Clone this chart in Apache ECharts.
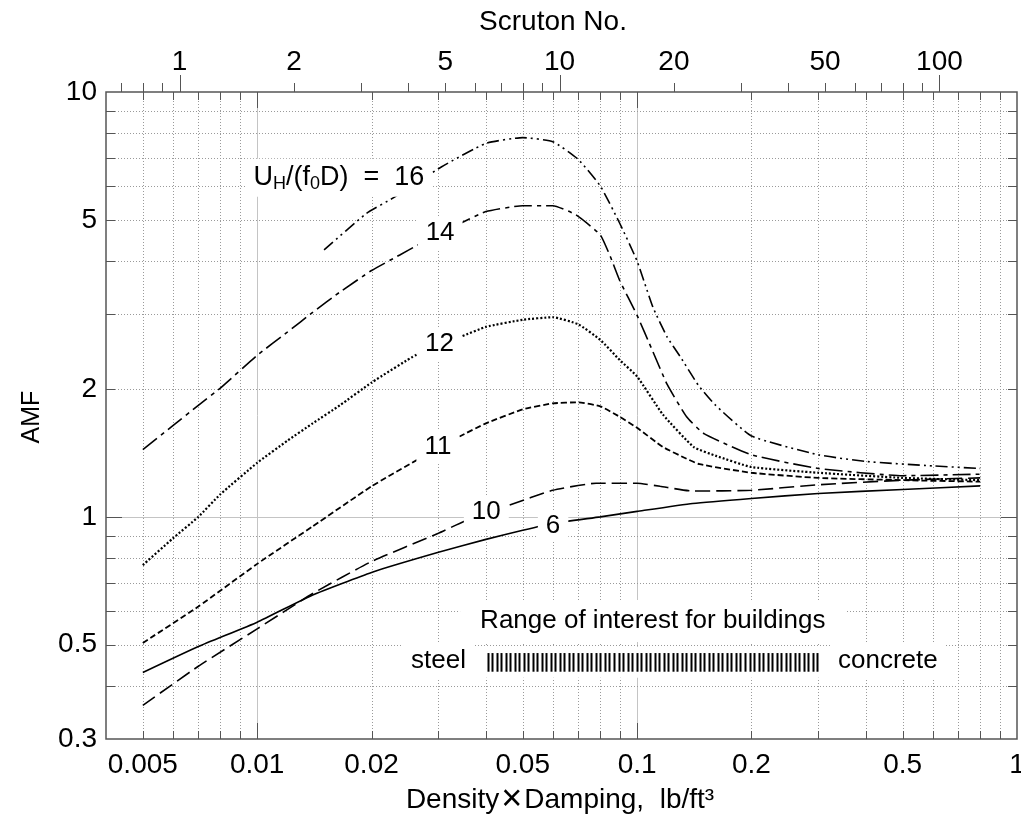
<!DOCTYPE html>
<html>
<head>
<meta charset="utf-8">
<script src="https://cdn.jsdelivr.net/npm/echarts@6/dist/echarts.min.js"></script>
<style>
  html, body { margin: 0; padding: 0; background: #fff; }
  #main { width: 1021px; height: 823px; }
</style>
</head>
<body>
<div id="main"></div>
<script>
// density x damping (lb/ft^3) vs amplitude magnification factor, one list per U_H/(f0 D)
const amf6 = [[0.005, 0.43], [0.007, 0.495], [0.01, 0.565], [0.014, 0.655], [0.02, 0.74], [0.03, 0.825], [0.04, 0.885], [0.05, 0.93], [0.06, 0.965], [0.08, 1.0], [0.1, 1.03], [0.14, 1.075], [0.2, 1.105], [0.3, 1.135], [0.5, 1.16], [0.8, 1.183]]
const amf10 = [[0.005, 0.36], [0.007, 0.445], [0.01, 0.545], [0.014, 0.66], [0.02, 0.785], [0.03, 0.915], [0.035, 0.975], [0.046, 1.065], [0.06, 1.155], [0.078, 1.2], [0.1, 1.2], [0.115, 1.18], [0.14, 1.15], [0.2, 1.155], [0.3, 1.19], [0.5, 1.22], [0.8, 1.235]]
const amf11 = [[0.005, 0.505], [0.007, 0.615], [0.01, 0.775], [0.014, 0.95], [0.02, 1.18], [0.0263, 1.36], [0.0343, 1.55], [0.04, 1.66], [0.05, 1.79], [0.06, 1.85], [0.07, 1.86], [0.08, 1.82], [0.09, 1.72], [0.1, 1.62], [0.117, 1.46], [0.135, 1.37], [0.146, 1.33], [0.2, 1.27], [0.3, 1.235], [0.5, 1.22], [0.8, 1.21]]
const amf12 = [[0.005, 0.77], [0.006, 0.89], [0.007, 1.0], [0.008, 1.13], [0.01, 1.34], [0.012, 1.51], [0.014, 1.66], [0.0165, 1.83], [0.02, 2.07], [0.0263, 2.41], [0.0346, 2.66], [0.04, 2.8], [0.05, 2.91], [0.06, 2.95], [0.07, 2.84], [0.08, 2.61], [0.09, 2.34], [0.1, 2.14], [0.117, 1.74], [0.141, 1.46], [0.162, 1.39], [0.2, 1.31], [0.3, 1.27], [0.5, 1.235], [0.8, 1.22]]
const amf14 = [[0.005, 1.44], [0.006, 1.64], [0.007, 1.83], [0.008, 2.01], [0.01, 2.4], [0.012, 2.72], [0.014, 3.03], [0.0165, 3.38], [0.02, 3.8], [0.0238, 4.14], [0.0263, 4.35], [0.0343, 4.91], [0.04, 5.23], [0.05, 5.4], [0.06, 5.4], [0.069, 5.14], [0.08, 4.61], [0.085, 4.1], [0.09, 3.6], [0.1, 2.98], [0.11, 2.45], [0.12, 2.05], [0.135, 1.72], [0.15, 1.57], [0.2, 1.4], [0.3, 1.3], [0.5, 1.25], [0.8, 1.26]]
const amf16 = [[0.015, 4.25], [0.0194, 5.18], [0.0231, 5.67], [0.0306, 6.67], [0.04, 7.57], [0.05, 7.81], [0.06, 7.64], [0.07, 6.94], [0.08, 6.01], [0.09, 4.91], [0.1, 4.0], [0.11, 3.12], [0.12, 2.65], [0.13, 2.38], [0.145, 2.04], [0.16, 1.84], [0.2, 1.55], [0.3, 1.4], [0.4, 1.35], [0.6, 1.318], [0.8, 1.3]]

// axes
const xRange = [0.004, 1]
const yRange = [0.3, 10]
const scrutonRange = [0.64, 160]
const xGrid = [0.005, 0.006, 0.007, 0.008, 0.009, 0.01, 0.02, 0.03, 0.04, 0.05, 0.06, 0.07, 0.08, 0.09, 0.1, 0.2, 0.3, 0.4, 0.5, 0.6, 0.7, 0.8, 0.9]
const yGrid = [0.4, 0.5, 0.6, 0.7, 0.8, 0.9, 1, 2, 3, 4, 5, 6, 7, 8, 9]
const xTickLabels = [0.005, 0.01, 0.02, 0.05, 0.1, 0.2, 0.5, 1]
const yTickLabels = [0.3, 0.5, 1, 2, 5, 10]
const scrutonTicks = [0.7, 0.8, 0.9, 1, 2, 3, 4, 5, 6, 7, 8, 9, 10, 20, 30, 40, 50, 60, 70, 80, 90, 100]
const scrutonLabels = [1, 2, 5, 10, 20, 50, 100]

// curve labels: text and anchor in data space
const curveLabels = [
  { text: '14', at: [0.0303, 4.66] },
  { text: '12', at: [0.0302, 2.55] },
  { text: '11', at: [0.0299, 1.46] },
  { text: '10', at: [0.0401, 1.027] },
  { text: '6', at: [0.0601, 0.952] }
]
const titleLabelAt = [0.0289, 6.28]
const rangeTextAt = [0.11, 0.569]
const steelAt = [0.0372, 0.458]
const concreteAt = [0.322, 0.458]
const hatchFrom = [0.0404, 0.478]
const hatchTo = [0.298, 0.432]
const hatchCount = 74

const FONT = '"Liberation Sans", Arial, Helvetica, sans-serif'
const font = (size) => size + 'px ' + FONT
const isDecade = v => Math.abs(Math.log10(v) - Math.round(Math.log10(v))) < 1e-9
const crisp = v => Math.round(v) + 0.5

const line = (x1, y1, x2, y2, style) => ({ type: 'line', shape: { x1, y1, x2, y2 }, style })

const renderFrame = (params, api) => {
  const [left, bottom] = api.coord([xRange[0], yRange[0]])
  const [right, top] = api.coord([xRange[1], yRange[1]])
  const children = []
  const tick = { stroke: '#555', lineWidth: 1 }
  xGrid.forEach(v => {
    const x = crisp(api.coord([v, yRange[0]])[0])
    children.push(line(x, top, x, bottom, isDecade(v)
      ? { stroke: '#c4c4c4', lineWidth: 1 }
      : { stroke: '#9a9a9a', lineWidth: 1, lineDash: [1, 2] }))
  })
  yGrid.forEach(v => {
    const y = crisp(api.coord([xRange[0], v])[1])
    children.push(line(left, y, right, y, isDecade(v)
      ? { stroke: '#c4c4c4', lineWidth: 1 }
      : { stroke: '#9a9a9a', lineWidth: 1, lineDash: [1, 2] }))
  })
  xGrid.forEach(v => {
    const x = crisp(api.coord([v, yRange[0]])[0])
    const len = isDecade(v) ? 16 : 8
    children.push(line(x, bottom, x, bottom - len, tick))
    children.push(line(x, top, x, top + len, tick))
  })
  yGrid.forEach(v => {
    const y = crisp(api.coord([xRange[0], v])[1])
    const len = isDecade(v) ? 16 : 9
    children.push(line(left, y, left + len, y, tick))
    children.push(line(right, y, right - len, y, tick))
  })
  xTickLabels.forEach(v => {
    const x = api.coord([v, yRange[0]])[0]
    children.push({ type: 'text', x, y: bottom + 26, style: { text: String(v), font: font(28), fill: '#000', align: 'center', verticalAlign: 'middle' } })
  })
  yTickLabels.forEach(v => {
    const y = api.coord([xRange[0], v])[1]
    children.push({ type: 'text', x: left - 9, y, style: { text: String(v), font: font(28), fill: '#000', align: 'right', verticalAlign: 'middle' } })
  })
  return { type: 'group', children }
}

const renderScruton = (params, api) => {
  const top = api.coord([scrutonRange[0], yRange[1]])[1]
  const children = []
  scrutonTicks.forEach(v => {
    const x = crisp(api.coord([v, yRange[1]])[0])
    const len = isDecade(v) ? 17 : 9
    children.push(line(x, top, x, top - len, { stroke: '#555', lineWidth: 1 }))
  })
  scrutonLabels.forEach(v => {
    const x = api.coord([v, yRange[1]])[0]
    children.push({ type: 'text', x, y: top - 30, style: { text: String(v), font: font(28), fill: '#000', align: 'center', verticalAlign: 'middle' } })
  })
  return { type: 'group', children }
}

const renderNotes = (params, api) => {
  const children = []
  const txt = (p, text, align, pad) => ({
    type: 'text', x: p[0], y: p[1],
    style: { text, font: font(26), fill: '#000', align, verticalAlign: 'middle', backgroundColor: '#fff', padding: pad }
  })
  curveLabels.forEach(l => children.push(txt(api.coord(l.at), l.text, 'center', [3, 8])))
  const t = api.coord(titleLabelAt)
  children.push({
    type: 'text', x: t[0], y: t[1],
    style: {
      text: '{a|U}{s|H}{a|/(f}{s|0}{a|D)  =  16}',
      align: 'right', verticalAlign: 'middle', backgroundColor: '#fff', padding: [4, 8, 4, 8],
      rich: {
        a: { font: font(27), fill: '#000', lineHeight: 30 },
        s: { font: font(18), fill: '#000', lineHeight: 30, verticalAlign: 'bottom', padding: [12, 0, 0, 0] }
      }
    }
  })
  children.push(txt(api.coord(rangeTextAt), 'Range of interest for buildings', 'center', [8, 20]))
  const a = api.coord(hatchFrom)
  const b = api.coord(hatchTo)
  children.push({ type: 'rect', shape: { x: a[0] - 8, y: a[1] - 6, width: b[0] - a[0] + 16, height: b[1] - a[1] + 12 }, style: { fill: '#fff' } })
  const step = (b[0] - a[0]) / (hatchCount - 1)
  for (let i = 0; i < hatchCount; i++) {
    const x = crisp(a[0] + i * step)
    children.push(line(x, a[1], x, b[1], { stroke: '#000', lineWidth: 2 }))
  }
  children.push(txt(api.coord(steelAt), 'steel', 'right', [6, 8]))
  children.push(txt(api.coord(concreteAt), 'concrete', 'left', [6, 8]))
  return { type: 'group', children }
}

const curve = (name, data, dash, width) => ({
  name, type: 'line', data, xAxisIndex: 0, yAxisIndex: 0, z: 3,
  showSymbol: false, symbol: 'none', smooth: 0.15, silent: true,
  lineStyle: { color: '#000', width, type: dash }
})

const hiddenAxis = { axisLine: { show: false }, axisTick: { show: false }, axisLabel: { show: false }, splitLine: { show: false } }

const chart = echarts.init(document.getElementById('main'), null, { renderer: 'canvas' })
chart.setOption({
  animation: false,
  backgroundColor: '#fff',
  grid: { left: 106, right: 4, top: 92, bottom: 84, show: true, borderColor: '#555', borderWidth: 1.5, backgroundColor: 'transparent', z: 8 },
  xAxis: [
    { type: 'log', logBase: 10, min: xRange[0], max: xRange[1], ...hiddenAxis },
    { type: 'log', logBase: 10, min: scrutonRange[0], max: scrutonRange[1], position: 'top', ...hiddenAxis }
  ],
  yAxis: [{ type: 'log', logBase: 10, min: yRange[0], max: yRange[1], ...hiddenAxis }],
  graphic: [
    { type: 'text', x: 553, y: 22, style: { text: 'Scruton No.', font: font(28), fill: '#000', align: 'center', verticalAlign: 'middle' } },
    { type: 'text', x: 32, y: 417, rotation: Math.PI / 2, style: { text: 'AMF', font: font(25), fill: '#000', align: 'center', verticalAlign: 'middle' } },
    {
      type: 'text', x: 560, y: 800,
      style: {
        text: '{a|Density}{x|×}{a|Damping,  lb/ft³}',
        align: 'center', verticalAlign: 'middle',
        rich: { a: { font: font(28), fill: '#000' }, x: { font: font(36), fill: '#000', padding: [0, 2, 0, 2] } }
      }
    }
  ],
  series: [
    { type: 'custom', renderItem: renderFrame, data: [[0.01, 1]], clip: false, z: 1, silent: true },
    curve('6', amf6, 'solid', 1.6),
    curve('10', amf10, [15, 6], 1.6),
    curve('11', amf11, [6, 3], 1.8),
    curve('12', amf12, [2, 2], 2.2),
    curve('14', amf14, [18, 5, 4, 5], 1.6),
    curve('16', amf16, [12, 4, 2, 4, 2, 4], 1.6),
    { type: 'custom', renderItem: renderNotes, data: [[0.01, 1]], clip: false, z: 6, silent: true },
    { type: 'custom', renderItem: renderScruton, xAxisIndex: 1, data: [[1, 1]], clip: false, z: 7, silent: true }
  ]
})
</script>
</body>
</html>
